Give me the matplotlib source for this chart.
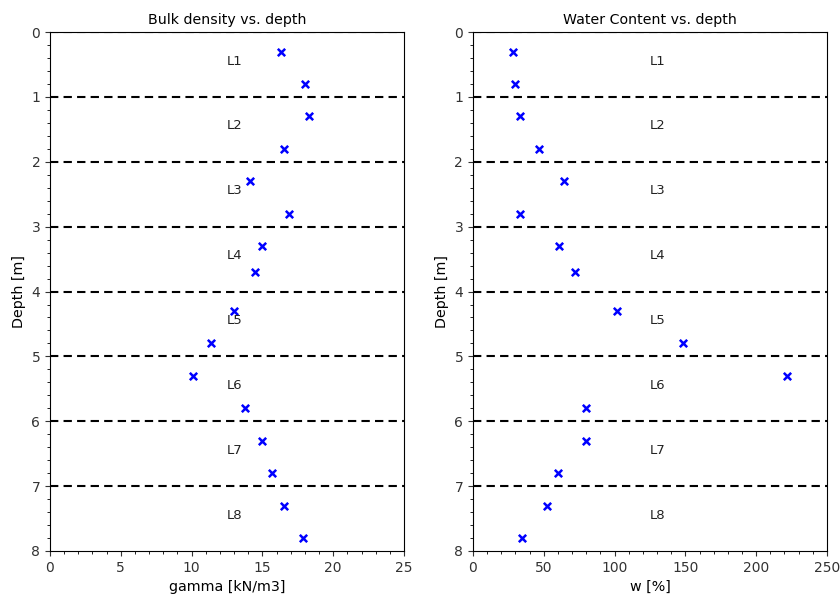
import matplotlib
matplotlib.use("Agg")
import matplotlib.pyplot as plt
from matplotlib.ticker import AutoMinorLocator

# depth of each sample [m]
depth = [0.3, 0.8, 1.3, 1.8, 2.3, 2.8, 3.3, 3.7, 4.3, 4.8, 5.3, 5.8, 6.3, 6.8, 7.3, 7.8]
# bulk density [kN/m3]
gamma = [16.3, 18.0, 18.3, 16.5, 14.1, 16.9, 15.0, 14.5, 13.0, 11.4, 10.1, 13.8, 15.0, 15.7, 16.5, 17.9]
# water content [%]
w = [28, 30, 33, 47, 64, 33, 61, 72, 102, 148, 222, 80, 80, 60, 52, 35]

layers = ["L1", "L2", "L3", "L4", "L5", "L6", "L7", "L8"]
layer_bounds = [0, 1, 2, 3, 4, 5, 6, 7]

fig = plt.figure(figsize=(8.4, 5.95), dpi=100)
ax1 = fig.add_axes([0.0595, 0.074, 0.4215, 0.872])
ax2 = fig.add_axes([0.563, 0.074, 0.4215, 0.872])

def setup(ax, x, xmax, title, xlabel):
    ax.scatter(x, depth, marker="x", color="blue", s=28, linewidths=1.8, zorder=3)
    for b in layer_bounds:
        ax.axhline(b, color="k", linestyle="--", linewidth=1.5, dashes=(4, 2.5))
    for i, name in enumerate(layers):
        ax.text(xmax / 2, i + 0.5, name, fontsize=9.5, color="#222222")
    ax.set_xlim(0, xmax)
    ax.set_ylim(8, 0)
    ax.xaxis.set_minor_locator(AutoMinorLocator())
    ax.yaxis.set_minor_locator(AutoMinorLocator())
    ax.tick_params(labelsize=10, colors="#333333")
    ax.set_title(title, fontsize=10.2)
    ax.set_xlabel(xlabel, fontsize=10.3)
    ax.set_ylabel("Depth [m]", fontsize=10.3)

setup(ax1, gamma, 25, "Bulk density vs. depth", "gamma [kN/m3]")
setup(ax2, w, 250, "Water Content vs. depth", "w [%]")

fig.savefig("out.png", dpi=100)
